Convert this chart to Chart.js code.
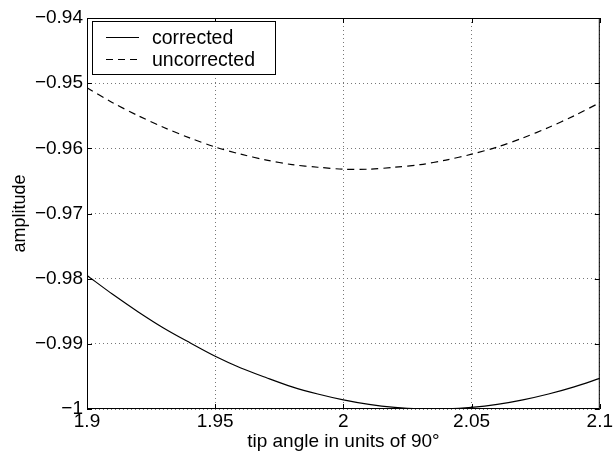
<!DOCTYPE html>
<html>
<head>
<meta charset="utf-8">
<script src="https://cdn.jsdelivr.net/npm/chart.js@4.4.1/dist/chart.umd.min.js"></script>
<style>
  html, body { margin: 0; padding: 0; background: #fff; }
  #wrap { width: 614px; height: 455px; }
</style>
</head>
<body>
<div id="wrap"><canvas id="mycanvas" width="614" height="455"></canvas></div>
<script>
// tip angle (units of 90 deg)
var angle = [1.90, 1.91, 1.92, 1.93, 1.94, 1.95, 1.96, 1.97, 1.98, 1.99, 2.00,
             2.01, 2.02, 2.03, 2.04, 2.05, 2.06, 2.07, 2.08, 2.09, 2.10];
var corrected = [-0.9795, -0.9824, -0.9851, -0.9876, -0.9898, -0.9919, -0.9937,
                 -0.9952, -0.9966, -0.9977, -0.9986, -0.9993, -0.99975, -0.99997,
                 -0.99997, -0.99975, -0.9993, -0.9986, -0.9977, -0.9966, -0.9953];
var uncorrected = [-0.9507, -0.9530, -0.9550, -0.9568, -0.9584, -0.9598, -0.9609,
                   -0.9618, -0.9625, -0.9629, -0.9632, -0.9632, -0.9629, -0.9625,
                   -0.9618, -0.9609, -0.9598, -0.9584, -0.9568, -0.9550, -0.9530];
var xTicks = [1.9, 1.95, 2, 2.05, 2.1];
var yTicks = [-1, -0.99, -0.98, -0.97, -0.96, -0.95, -0.94];
var seriesNames = ['corrected', 'uncorrected'];

var FONT = 'Liberation Sans, Arial, Helvetica, sans-serif';

function pts(ys) {
    var out = [];
    for (var i in angle) out.push({x: angle[i], y: ys[i]});
    return out;
}
function fmt(v) {
    var s = String(parseFloat(v.toFixed(4)));
    return s.replace('-', '\u2212');
}

// box around the axes, inward ticks and legend drawn inside the plot
var boxPlugin = {
    id: 'box',
    afterDraw: function(chart) {
        var c = chart.ctx, a = chart.chartArea;
        var xs = chart.scales.x, ys = chart.scales.y;
        c.save();
        c.strokeStyle = '#000';
        c.lineWidth = 1;
        c.strokeRect(a.left + 0.5, a.top + 0.5, a.right - a.left - 1, a.bottom - a.top - 1);
        c.beginPath();
        xTicks.forEach(function(t) {
            var px = Math.round(xs.getPixelForValue(t)) + 0.5;
            c.moveTo(px, a.bottom); c.lineTo(px, a.bottom - 5);
            c.moveTo(px, a.top); c.lineTo(px, a.top + 5);
        });
        yTicks.forEach(function(t) {
            var py = Math.round(ys.getPixelForValue(t)) + 0.5;
            c.moveTo(a.left, py); c.lineTo(a.left + 5, py);
            c.moveTo(a.right, py); c.lineTo(a.right - 5, py);
        });
        c.stroke();

        // legend
        var lx = a.left + 5, ly = a.top + 3, lw = 183, lh = 53;
        c.fillStyle = '#fff';
        c.fillRect(lx, ly, lw, lh);
        c.strokeRect(lx + 0.5, ly + 0.5, lw, lh);
        c.font = '19.5px ' + FONT;
        c.textBaseline = 'middle';
        chart.data.datasets.forEach(function(ds, i) {
            var yy = ly + 16 + i * 22 + 0.5;
            c.beginPath();
            c.setLineDash(ds.borderDash || []);
            c.lineWidth = 1;
            c.moveTo(lx + 14, yy); c.lineTo(lx + 47, yy);
            c.stroke();
            c.setLineDash([]);
            c.fillStyle = '#000';
            c.fillText(ds.label, lx + 60, yy + 1);
        });
        c.restore();
    }
};

var ctx = document.getElementById('mycanvas');
var chart = new Chart(ctx, {
    type: 'line',
    data: {
        datasets: [
            {
                label: seriesNames[0],
                data: pts(corrected),
                borderColor: '#000',
                borderWidth: 1.2,
                pointRadius: 0,
                tension: 0.3,
                fill: false
            },
            {
                label: seriesNames[1],
                data: pts(uncorrected),
                borderColor: '#000',
                borderWidth: 1.2,
                borderDash: [7, 5],
                pointRadius: 0,
                tension: 0.3,
                fill: false
            }
        ]
    },
    options: {
        responsive: false,
        animation: false,
        layout: { padding: { top: 18, right: 13, left: 0, bottom: 0 } },
        plugins: {
            legend: { display: false },
            tooltip: { enabled: false }
        },
        scales: {
            x: {
                type: 'linear',
                min: 1.9, max: 2.1,
                afterBuildTicks: function(s) { s.ticks = xTicks.map(function(v) { return {value: v}; }); },
                afterFit: function(s) { s.height = 46; },
                grid: { color: '#777', drawTicks: false, lineWidth: 1 },
                border: { display: false, dash: [1, 3] },
                ticks: {
                    color: '#000', padding: 1,
                    font: { family: FONT, size: 19 },
                    maxRotation: 0,
                    callback: function(v) { return fmt(v); }
                },
                title: {
                    display: true, text: 'tip angle in units of 90\u00b0',
                    color: '#000', font: { family: FONT, size: 19 },
                    padding: { top: 0, bottom: 2 }
                }
            },
            y: {
                min: -1, max: -0.94,
                afterBuildTicks: function(s) { s.ticks = yTicks.map(function(v) { return {value: v}; }); },
                afterFit: function(s) { s.width = 87; },
                grid: { color: '#777', drawTicks: false, lineWidth: 1 },
                border: { display: false, dash: [1, 3] },
                ticks: {
                    color: '#000', padding: 4,
                    font: { family: FONT, size: 19 },
                    callback: function(v) { return fmt(v); }
                },
                title: {
                    display: true, text: 'amplitude',
                    color: '#000', font: { family: FONT, size: 18 },
                    padding: { top: 9, bottom: 0 }
                }
            }
        }
    },
    plugins: [boxPlugin]
});
</script>
</body>
</html>
